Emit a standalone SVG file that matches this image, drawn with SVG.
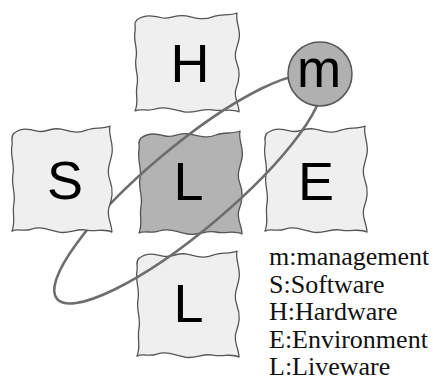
<svg xmlns="http://www.w3.org/2000/svg" xmlns:xlink="http://www.w3.org/1999/xlink" width="433" height="385" viewBox="0 0 433 385">
  <style>
    .tile { stroke: #555555; stroke-width: 1.3; stroke-linejoin: round; }
    .light { fill: #efefef; }
    .dark { fill: #b3b3b3; }
    .letter { font-family: "Liberation Sans", Arial, sans-serif; font-size: 54px; fill: #000000; text-anchor: middle; }
    .orbit { fill: none; stroke: #6e6e6e; stroke-width: 2.6; }
    .legend { font-family: "Liberation Serif", "Times New Roman", serif; font-size: 26px; fill: #111111; }
  </style>
  <defs>
    <!-- ragged, paper-like square tile, roughly 105 x 105 -->
    <path id="tile" d="M 4,8 C 12,2 20,4 28,6 C 36,8 42,2 52,4 C 62,6 68,9 78,5 C 86,2 94,4 102,1
      C 100,10 106,18 104,28 C 102,38 98,44 102,54 C 106,64 104,72 101,80 C 98,88 104,96 104,104
      C 96,100 88,104 78,102 C 68,100 60,106 50,104 C 40,102 32,98 22,101 C 14,104 8,100 2,103
      C 6,94 2,86 4,76 C 6,66 1,58 3,48 C 5,38 0,30 2,20 C 3,14 0,12 4,8 Z"/>
  </defs>

  <!-- centre tile: L -->
  <g id="node-L-centre">
    <use xlink:href="#tile" class="tile dark" transform="translate(137,130) scale(1.01,1.0)"/>
    <text class="letter" x="188.5" y="200">L</text>
  </g>

  <!-- bottom tile: L -->
  <g id="node-L-bottom">
    <use xlink:href="#tile" class="tile light" transform="translate(135,250) scale(1.0,1.03)"/>
    <text class="letter" x="188.5" y="322">L</text>
  </g>

  <!-- top tile: H -->
  <g id="node-H">
    <use xlink:href="#tile" class="tile light" transform="translate(133,12) scale(1.02,0.96)"/>
    <text class="letter" x="190" y="82">H</text>
  </g>

  <!-- right tile: E -->
  <g id="node-E">
    <use xlink:href="#tile" class="tile light" transform="translate(263,125) scale(1.0,1.03)"/>
    <text class="letter" x="316" y="200">E</text>
  </g>

  <!-- orbit linking the elements -->
  <g id="connectors">
    <ellipse class="orbit" cx="188" cy="189" rx="171" ry="42" transform="rotate(-40 188 189)"/>
  </g>

  <!-- left tile: S -->
  <g id="node-S">
    <use xlink:href="#tile" class="tile light" transform="translate(10,125) scale(0.98,1.03)"/>
    <text class="letter" x="65" y="199">S</text>
  </g>

  <!-- management circle -->
  <g id="node-m">
    <circle cx="320" cy="74" r="32" fill="#b0b0b0" stroke="#555555" stroke-width="1.5"/>
    <text class="letter" x="319" y="87" style="font-size:53px">m</text>
  </g>

  <!-- legend -->
  <g id="legend">
    <text class="legend" x="269" y="265">m:management</text>
    <text class="legend" x="269" y="292.5">S:Software</text>
    <text class="legend" x="269" y="320">H:Hardware</text>
    <text class="legend" x="269" y="347.5">E:Environment</text>
    <text class="legend" x="269" y="375">L:Liveware</text>
  </g>
</svg>
